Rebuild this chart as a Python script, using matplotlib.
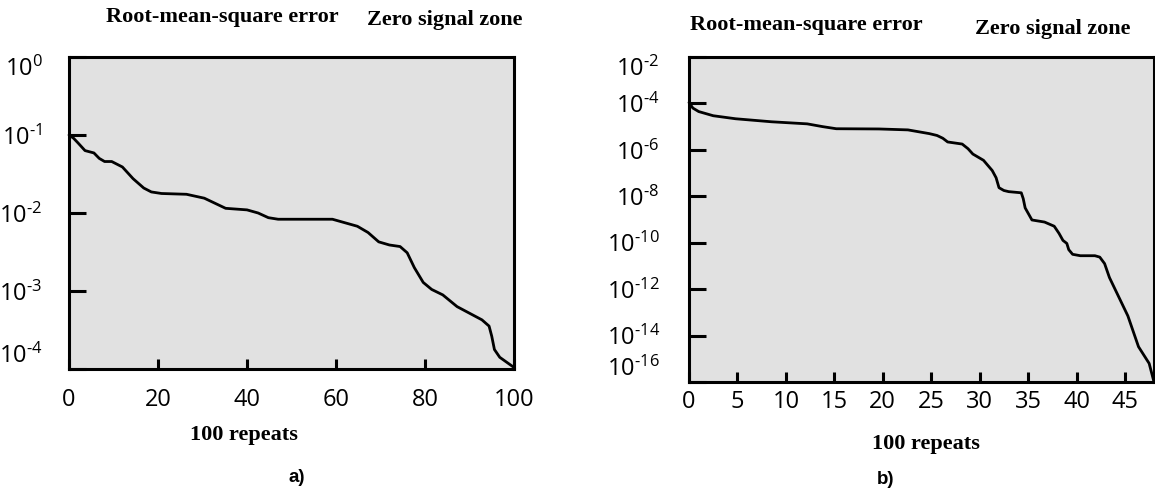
import numpy as np
import matplotlib
matplotlib.use("Agg")
import matplotlib.pyplot as plt

# panel a) - RMS error over 100 repeats
xa = [0, 1, 2, 3.6, 5.6, 6.8, 8, 9.6, 12, 14.4, 16.8, 18.5, 20.8, 26.4, 30.4, 35.2,
      40, 42.5, 44.8, 47, 52.8, 59.2, 64.8, 67.2, 69.6, 72, 74.4, 76, 77.6, 79.6,
      81.5, 84, 87.2, 92.8, 94.4, 95, 95.6, 96.8, 100]
log_ya = [-1.0, -1.04, -1.1, -1.2, -1.23, -1.3, -1.34, -1.34, -1.41, -1.56, -1.68,
          -1.73, -1.75, -1.76, -1.81, -1.94, -1.96, -2.0, -2.06, -2.08, -2.08, -2.08,
          -2.17, -2.25, -2.37, -2.41, -2.43, -2.51, -2.70, -2.89, -2.98, -3.05, -3.20,
          -3.37, -3.45, -3.58, -3.75, -3.85, -3.98]

# panel b)
xb = [0, 0.4, 1.0, 2.5, 4.8, 8.5, 12.2, 13.8, 15.2, 19.6, 22.6, 24.8, 25.6, 26.2,
      26.7, 28.2, 28.8, 29.3, 30.4, 31.3, 31.7, 32, 32.5, 33, 34.3, 34.5, 34.7, 35.4,
      36.7, 37.7, 38.2, 38.6, 39, 39.2, 39.6, 40.4, 41.9, 42.4, 42.9, 43.4, 45.3,
      46.4, 47.5, 48]
log_yb = [-3.96, -4.2, -4.35, -4.53, -4.66, -4.79, -4.88, -5.0, -5.09, -5.1, -5.14,
          -5.3, -5.38, -5.5, -5.66, -5.75, -5.95, -6.18, -6.45, -6.89, -7.2, -7.63,
          -7.75, -7.8, -7.85, -8.1, -8.5, -9.02, -9.11, -9.29, -9.6, -9.9, -10.03,
          -10.3, -10.5, -10.56, -10.56, -10.62, -10.9, -11.5, -13.15, -14.48, -15.2,
          -16.0]

yticks_a = [0, -1, -2, -3, -4]
yticks_b = [-2, -4, -6, -8, -10, -12, -14, -16]
xticks_a = [0, 20, 40, 60, 80, 100]
xticks_b = [0, 5, 10, 15, 20, 25, 30, 35, 40, 45]

plt.rcParams['mathtext.fontset'] = 'custom'
plt.rcParams['mathtext.rm'] = 'Open Sans'
plt.rcParams['mathtext.it'] = 'Open Sans'
plt.rcParams['mathtext.bf'] = 'Open Sans'
plt.rcParams['font.family'] = ['Open Sans', 'DejaVu Sans']

W, H = 1155, 488
fig = plt.figure(figsize=(W / 100, H / 100), dpi=100)


def rect(l, r, t, b):
    return [l / W, 1 - b / H, (r - l) / W, (b - t) / H]


def pow_label(t):
    if t < 0:
        return '$\\mathrm{10^{\u2010%d}}$' % (-t)
    return '$\\mathrm{10^{%d}}$' % t


def setup(ax, x, logy, xticks, yticks, xlim, xpad, ypad):
    ax.set_facecolor('#e1e1e1')
    ax.plot(x, 10.0 ** np.array(logy), color='black', lw=2.0,
            solid_joinstyle='round', solid_capstyle='round', clip_on=False)
    ax.set_yscale('log')
    ax.set_xlim(*xlim)
    ax.set_ylim(10.0 ** min(yticks), 10.0 ** max(yticks))
    ax.minorticks_off()
    ax.set_xticks(xticks)
    ax.set_xticklabels([str(t) for t in xticks])
    ax.set_yticks([10.0 ** t for t in yticks])
    ax.set_yticklabels([pow_label(t) for t in yticks])
    ax.tick_params(axis='x', direction='in', length=7.5, width=2.2, pad=xpad,
                   labelsize=17)
    ax.tick_params(axis='y', direction='in', length=12.5, width=2.2, pad=ypad,
                   labelsize=17)
    ticks = ax.yaxis.get_major_ticks()
    ticks[-1].label1.set_va('bottom')
    ticks[0].label1.set_va('top')
    for s in ax.spines.values():
        s.set_linewidth(2.2)


ax1 = fig.add_axes(rect(69, 514, 57, 369))
setup(ax1, xa, log_ya, xticks_a, yticks_a, (0, 100), 14, 19)

ax2 = fig.add_axes(rect(689, 1154, 57, 382))
setup(ax2, xb, log_yb, xticks_b, yticks_b, (0, 48), 6, 21)


def ftext(px, py, s, **kw):
    fig.text(px / W, 1 - py / H, s, ha='center', va='center', **kw)


serif = dict(family='Liberation Serif', weight='bold', size=16)
ftext(222, 17, 'Root-mean-square error', **serif)
ftext(445, 20, 'Zero signal zone', **serif)
ftext(806, 25, 'Root-mean-square error', **serif)
ftext(1053, 29, 'Zero signal zone', **serif)
ftext(244, 435, '100 repeats', **serif)
ftext(926, 444, '100 repeats', **serif)
ftext(297, 478, 'a)', family='Liberation Sans', weight='bold', size=13.5)
ftext(886, 479, 'b)', family='Liberation Sans', weight='bold', size=13.5)

fig.savefig('out.png', dpi=100)
